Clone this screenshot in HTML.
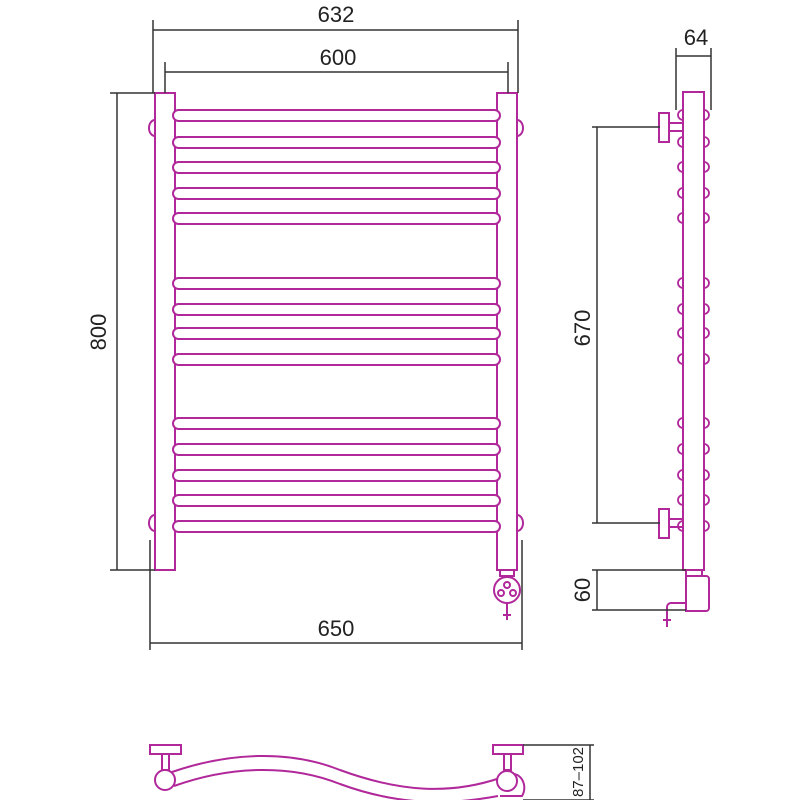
<!DOCTYPE html>
<html><head><style>body{margin:0;background:#fff}svg{display:block}</style></head><body>
<svg width="800" height="800" viewBox="0 0 800 800" xmlns="http://www.w3.org/2000/svg">
<g fill="none" stroke="#b0289a" stroke-width="2">
<!-- posts -->
<rect x="155" y="93" width="20" height="477" fill="#fff"/>
<rect x="497" y="93" width="20" height="477" fill="#fff"/>
<path d="M155 120 a6 8 0 0 0 0 16 M517 120 a6 8 0 0 1 0 16 M155 515 a6 8 0 0 0 0 16 M517 515 a6 8 0 0 1 0 16"/>
<!-- rails -->
<g fill="#fff">
<rect x="173" y="110" width="327" height="11" rx="5.5"/>
<rect x="173" y="137" width="327" height="11" rx="5.5"/>
<rect x="173" y="162" width="327" height="11" rx="5.5"/>
<rect x="173" y="188" width="327" height="11" rx="5.5"/>
<rect x="173" y="213" width="327" height="11" rx="5.5"/>
<rect x="173" y="278" width="327" height="11" rx="5.5"/>
<rect x="173" y="304" width="327" height="11" rx="5.5"/>
<rect x="173" y="328" width="327" height="11" rx="5.5"/>
<rect x="173" y="354" width="327" height="11" rx="5.5"/>
<rect x="173" y="418" width="327" height="11" rx="5.5"/>
<rect x="173" y="444" width="327" height="11" rx="5.5"/>
<rect x="173" y="470" width="327" height="11" rx="5.5"/>
<rect x="173" y="495" width="327" height="11" rx="5.5"/>
<rect x="173" y="521" width="327" height="11" rx="5.5"/>
</g>
<!-- heater front -->
<rect x="500" y="570" width="14" height="6"/>
<circle cx="507" cy="590" r="13" fill="#fff"/>
<circle cx="507" cy="585" r="3"/><circle cx="501" cy="593" r="3"/><circle cx="513" cy="593" r="3"/>
<path d="M507 603 v17 M503 615 h8"/>
<!-- side view -->
<rect x="683" y="92" width="21" height="478" fill="#fff"/>
<g stroke-width="1.8">
<path d="M683 110 a5 5 0 0 0 0 10 M704 110 a5 5 0 0 1 0 10 M683 137 a5 5 0 0 0 0 10 M704 137 a5 5 0 0 1 0 10 M683 162 a5 5 0 0 0 0 10 M704 162 a5 5 0 0 1 0 10 M683 188 a5 5 0 0 0 0 10 M704 188 a5 5 0 0 1 0 10 M683 213 a5 5 0 0 0 0 10 M704 213 a5 5 0 0 1 0 10"/>
<path d="M683 278 a5 5 0 0 0 0 10 M704 278 a5 5 0 0 1 0 10 M683 304 a5 5 0 0 0 0 10 M704 304 a5 5 0 0 1 0 10 M683 328 a5 5 0 0 0 0 10 M704 328 a5 5 0 0 1 0 10 M683 354 a5 5 0 0 0 0 10 M704 354 a5 5 0 0 1 0 10"/>
<path d="M683 418 a5 5 0 0 0 0 10 M704 418 a5 5 0 0 1 0 10 M683 444 a5 5 0 0 0 0 10 M704 444 a5 5 0 0 1 0 10 M683 470 a5 5 0 0 0 0 10 M704 470 a5 5 0 0 1 0 10 M683 495 a5 5 0 0 0 0 10 M704 495 a5 5 0 0 1 0 10 M683 521 a5 5 0 0 0 0 10 M704 521 a5 5 0 0 1 0 10"/>
</g>
<rect x="659" y="113" width="10" height="29" fill="#fff"/><rect x="669" y="123" width="14" height="8"/>
<rect x="659" y="509" width="10" height="29" fill="#fff"/><rect x="669" y="519" width="14" height="8"/>
<rect x="686" y="570" width="16" height="6"/>
<path d="M686 576 h20 a3 3 0 0 1 3 3 v29 a3 3 0 0 1 -3 3 h-20 z" fill="#fff"/>
<path d="M686 603 h-15 a4 4 0 0 0 -4 4 v10 M663 620 h8 M667 615 v12"/>
<!-- bottom view -->
<rect x="150" y="745" width="31" height="9"/><rect x="162" y="754" width="7" height="16"/>
<rect x="493" y="745" width="30" height="9"/><rect x="504" y="754" width="7" height="16"/>
<path d="M172 772 C230 752 290 750 340 770 C400 792 450 795 500 778"/>
<path d="M174 786 C230 766 290 764 340 784 C400 806 450 805 498 796"/>
<path d="M500 796 h22 a12 14 0 0 0 -12 -22"/>
<circle cx="165" cy="780" r="10" fill="#fff"/>
<circle cx="507" cy="781" r="10" fill="#fff"/>
</g>
<!-- dimension lines -->
<g stroke="#333" stroke-width="1.5" fill="none">
<path d="M153 93 V20 M518 93 V20 M153 30 H518"/>
<path d="M165 93 V62 M508 93 V62 M165 72 H508"/>
<path d="M155 93 H110 M155 570 H110 M117 93 V570"/>
<path d="M150 540 V650 M522 540 V650 M150 643 H522"/>
<path d="M676 110 V48 M711 110 V48 M676 56 H711"/>
<path d="M660 127 H592 M660 523 H592 M597 127 V523"/>
<path d="M686 570 H592 M686 610 H592 M597 570 V610"/>
<path d="M523 745 H594 M523 800 H594 M590 745 V800"/>
</g>
<g font-family="Liberation Sans, sans-serif" font-size="22" fill="#222" text-anchor="middle">
<text x="336" y="22">632</text>
<text x="338" y="65">600</text>
<text x="336" y="636">650</text>
<text x="696" y="45">64</text>
<text transform="translate(106 332) rotate(-90)">800</text>
<text transform="translate(590 328) rotate(-90)">670</text>
<text transform="translate(590 590) rotate(-90)">60</text>
<text font-size="15" transform="translate(583 772) rotate(-90)">87–102</text>
</g>
</svg>
</body></html>
